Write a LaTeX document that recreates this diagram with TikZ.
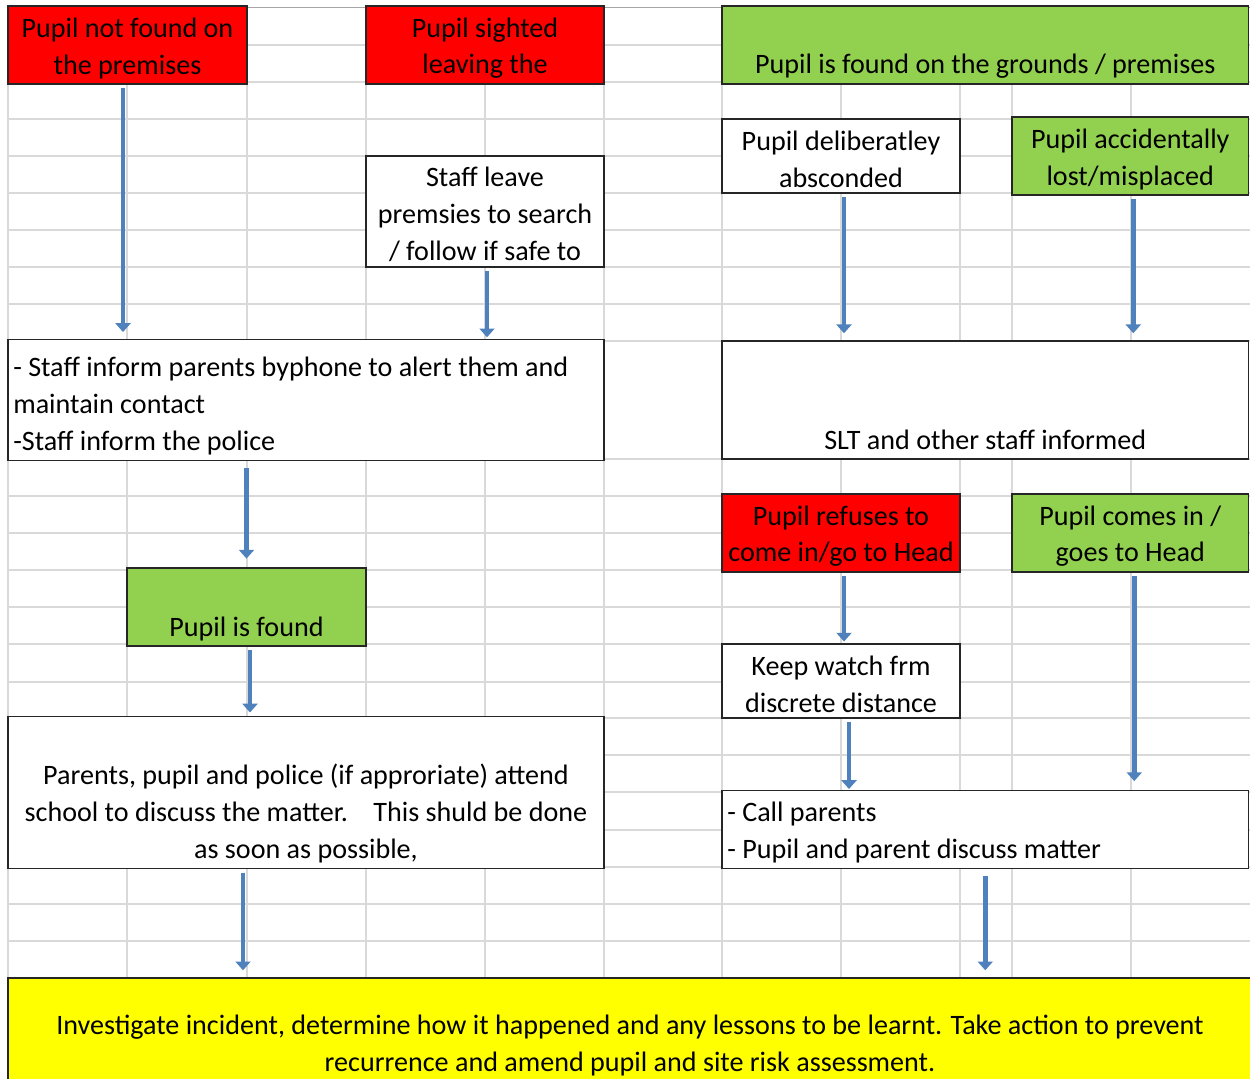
\documentclass[tikz,border=0pt]{standalone}
\usepackage{fontspec}
\setmainfont{Carlito}
\usepackage{xcolor}
\usepackage{tikz}
\usetikzlibrary{arrows.meta}

\definecolor{cellred}{HTML}{FF0000}
\definecolor{cellgreen}{HTML}{92D050}
\definecolor{cellyellow}{HTML}{FFFF00}
\definecolor{flowblue}{HTML}{4F81BD}
\definecolor{gridgray}{HTML}{D9D9D9}

\begin{document}
\begin{tikzpicture}[
		x=0.02cm, y=-0.02cm,
		gridline/.style={gridgray, line width=0.7pt},
		box/.style={
			draw=black!85,
			line width=0.8pt,
			fill=white,
			align=center,
			inner sep=3pt,
			font=\fontsize{16}{21}\selectfont
		},
		redbox/.style={box, fill=cellred},
		greenbox/.style={box, fill=cellgreen},
		listbox/.style={box, align=flush left},
		arrow/.style={-{Triangle[length=5pt,width=8.5pt]}, line width=2.8pt, flowblue, shorten <=2pt, shorten >=4pt}
		]
		
		\useasboundingbox (0,0) rectangle (1250,1078);
		\clip (0,0) rectangle (1250,1078);
		
		% Sheet grid
		\foreach \gx in {8,127,247,366,485,604,722,841,960,1012,1131}
			\draw[gridline] (\gx,8) -- (\gx,1078);
		\foreach \gy in {45,82,119,156,193,230,267,304,341,459,496,533,570,607,644,682,718,755,792,830,867,904,941,978,1015,1052}
			\draw[gridline] (8,\gy) -- (1250,\gy);
		\draw[black!35, line width=1pt] (8,7.5) -- (1250,7.5);
		
		% Starting situations
		\node[redbox, minimum width=4.78cm, minimum height=1.48cm] (notfound) at (127.5,45) {
			\strut Pupil not found on\\
			the premises
		};
		
		\node[redbox, minimum width=4.76cm, minimum height=1.48cm] (sighted) at (485,45) {
			\strut Pupil sighted\\
			leaving the
		};
		
		\node[greenbox, minimum width=10.53cm, minimum height=1.48cm] (grounds) at (985.25,45) {
			\strut\\
			Pupil is found on the grounds / premises
		};
		
		% Search
		\node[box, minimum width=4.76cm, minimum height=2.22cm] (staffleave) at (485,211.5) {
			\strut Staff leave\\
			premsies to search\\
			/ follow if safe to
		};
		
		\node[box, minimum width=4.76cm, minimum height=1.48cm] (deliberate) at (841,156) {
			\strut Pupil deliberatley\\
			absconded
		};
		
		\node[greenbox, minimum width=4.73cm, minimum height=1.48cm] (accident) at (1130.25,156) {
			\strut Pupil accidentally\\
			lost/misplaced
		};
		
		% Informing
		\node[listbox, text width=11.71cm, minimum height=2.36cm] (inform) at (306,400) {
			\rule{0pt}{18pt}- Staff inform parents byphone to alert them and\\
			maintain contact\\
			-Staff inform the police
		};
		
		\node[box, minimum width=10.53cm, minimum height=2.36cm] (slt) at (985.25,400) {
			\strut\\
			\strut\\
			SLT and other staff informed
		};
		
		% Outcomes
		\node[redbox, minimum width=4.76cm, minimum height=1.48cm] (refuses) at (841,533) {
			\strut Pupil refuses to\\
			come in/go to Head
		};
		
		\node[greenbox, minimum width=4.73cm, minimum height=1.48cm] (comesin) at (1130.25,533) {
			\strut Pupil comes in /\\
			goes to Head
		};
		
		\node[greenbox, minimum width=4.78cm, minimum height=1.48cm] (found) at (246.5,607) {
			\strut\\
			Pupil is found
		};
		
		\node[box, minimum width=4.76cm, minimum height=1.48cm] (watch) at (841,681) {
			\strut Keep watch frm\\
			discrete distance
		};
		
		% Meetings
		\node[box, minimum width=11.92cm, minimum height=2.98cm] (meeting) at (306,792.5) {
			\strut\\
			Parents, pupil and police (if approriate) attend\\
			school to discuss the matter.\ \ \ \ This shuld be done\\
			as soon as possible,
		};
		
		\node[listbox, text width=10.32cm, minimum height=1.5cm] (callparents) at (985.25,829.5) {
			\strut - Call parents\\
			- Pupil and parent discuss matter
		};
		
		% Follow-up
		\node[box, fill=cellyellow, minimum width=24.88cm, minimum height=2.56cm] (investigate) at (630,1042) {
			\strut Investigate incident, determine how it happened and any lessons to be learnt. Take action to prevent\\
			recurrence and amend pupil and site risk assessment.
		};
		
		% Arrows
		\draw[arrow] ([xshift=-0.09cm]notfound.south) -- ([xshift=-0.09cm]notfound.south |- inform.north);
		\draw[arrow, shorten >=1pt] ([xshift=0.04cm]staffleave.south) -- ([xshift=0.04cm]staffleave.south |- inform.north);
		\draw[arrow] ([xshift=0.06cm]deliberate.south) -- ([xshift=0.06cm]deliberate.south |- slt.north);
		\draw[arrow] ([xshift=0.06cm]accident.south) -- ([xshift=0.06cm]accident.south |- slt.north);
		\draw[arrow, shorten <=4pt, shorten >=5pt] (inform.south -| found.north) -- (found.north);
		\draw[arrow, shorten >=2pt] ([xshift=0.07cm]found.south) -- ([xshift=0.07cm]found.south |- meeting.north);
		\draw[arrow, shorten >=1pt] ([xshift=0.06cm]refuses.south) -- ([xshift=0.06cm]refuses.south |- watch.north);
		\draw[arrow, shorten >=0.5pt] ([xshift=0.16cm]watch.south) -- ([xshift=0.16cm]watch.south |- callparents.north);
		\draw[arrow, shorten >=5pt] ([xshift=0.08cm]comesin.south) -- ([xshift=0.08cm]comesin.south |- callparents.north);
		\draw[arrow] ([xshift=-0.07cm]meeting.south -| found.south) -- ([xshift=-0.07cm]found.south |- investigate.north);
		\draw[arrow, shorten <=4pt] (callparents.south) -- (callparents.south |- investigate.north);
		
	\end{tikzpicture}
\end{document}
